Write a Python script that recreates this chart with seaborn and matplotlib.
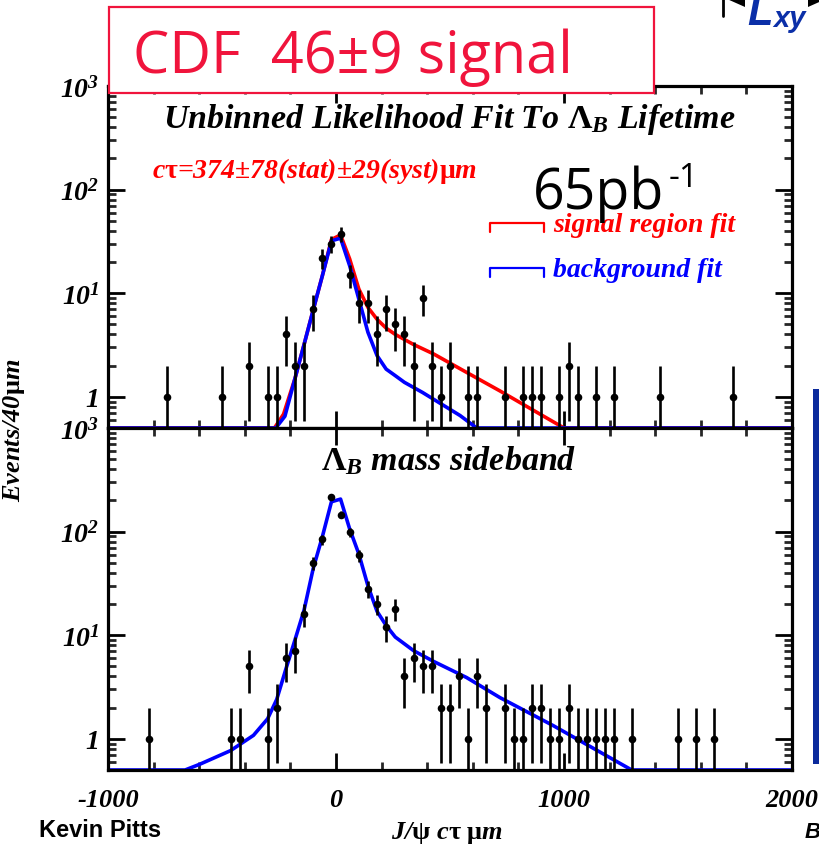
import numpy as np
import matplotlib
matplotlib.use("Agg")
import matplotlib.pyplot as plt
import matplotlib.transforms as mtransforms
from matplotlib.ticker import FixedLocator, FixedFormatter, LogLocator, NullFormatter, MultipleLocator
from matplotlib.patches import Rectangle, Polygon
from matplotlib.lines import Line2D
import seaborn as sns

# ---------------- data ----------------
# signal region: bin centres (um) and counts per 40 um
sig_x = [-740, -500, -380, -300, -260, -220, -180, -140, -100, -60, -20, 20, 60, 100, 140,
         180, 220, 260, 300, 340, 380, 420, 460, 500, 580, 620, 740, 820, 860, 900, 980,
         1020, 1060, 1140, 1220, 1420, 1740]
sig_n = [1, 1, 2, 1, 1, 4, 2, 2, 7, 22, 30, 37, 15, 8, 8,
         4, 7, 5, 4, 2, 9, 2, 1, 2, 1, 1, 1, 1, 1, 1, 1,
         2, 1, 1, 1, 1, 1]

# mass sideband
sb_x = [-820, -460, -420, -380, -300, -260, -220, -180, -140, -100, -60, -20, 20, 60, 100,
        140, 180, 220, 260, 300, 340, 380, 420, 460, 500, 540, 580, 620, 660, 740, 780,
        820, 860, 900, 940, 980, 1020, 1060, 1100, 1140, 1180, 1220, 1300, 1500, 1580, 1660]
sb_n = [1, 1, 1, 5, 1, 2, 6, 7, 16, 50, 84, 217, 146, 99, 59,
        28, 20, 12, 18, 4, 6, 5, 5, 2, 2, 4, 1, 4, 2, 2, 1,
        1, 2, 2, 1, 1, 2, 1, 1, 1, 1, 1, 1, 1, 1, 1]

# fit curves (0.5 = bottom of axis)
sigfit_x = [-1000, -270, -230, -180, -140, -100, -60, -20, 20, 60, 100, 140, 180, 220, 260,
            340, 427, 573, 719, 807, 1000, 2000]
sigfit_y = [0.5, 0.5, 0.68, 1.5, 3.2, 6.9, 14.7, 33, 36.5, 21.4, 11, 7.3, 5.6, 4.6, 4.0,
            3.2, 2.6, 1.72, 1.14, 0.88, 0.5, 0.5]

bkgfit_x = [-1000, -264, -224, -180, -140, -100, -60, -20, 20, 60, 100, 140, 180, 220, 260,
            300, 380, 427, 544, 617, 2000]
bkgfit_y = [0.5, 0.5, 0.65, 1.5, 3.2, 6.9, 14.7, 32, 34, 18.4, 8.8, 4.2, 2.5, 1.85, 1.6,
            1.38, 1.1, 0.95, 0.66, 0.5, 0.5]

sbfit_x = [-1000, -662, -596, -462, -362, -300, -260, -220, -180, -140, -100, -60, -20, 20,
           60, 100, 140, 180, 220, 260, 340, 427, 573, 719, 953, 1297, 2000]
sbfit_y = [0.5, 0.5, 0.57, 0.77, 1.08, 1.56, 2.4, 4.7, 9.0, 17.5, 44, 89, 194, 206,
           106, 61, 30, 17, 12.4, 9.6, 7.1, 5.6, 3.9, 2.5, 1.34, 0.5, 0.5]

ytick_vals = [1, 10, 100, 1000]
ytick_labels = ["1", r"$\mathbf{10^{1}}$", r"$\mathbf{10^{2}}$", r"$\mathbf{10^{3}}$"]
xtick_vals = [-1000, 0, 1000, 2000]
xtick_labels = ["-1000", "0", "1000", "2000"]

# ---------------- style ----------------
sns.set_theme(style="ticks")
plt.rcParams.update({
    "font.family": ["Liberation Serif", "DejaVu Sans"],
    "font.style": "italic",
    "font.weight": "bold",
    "mathtext.fontset": "custom",
    "mathtext.rm": "Liberation Serif:style=normal:weight=bold",
    "mathtext.it": "Liberation Serif:style=italic:weight=bold",
    "mathtext.bf": "Liberation Serif:style=italic:weight=bold",
    "axes.linewidth": 2.3,
    "axes.edgecolor": "black",
    "axes.facecolor": "white",
    "figure.facecolor": "white",
})

W, H = 819, 845
fig = plt.figure(figsize=(W / 100, H / 100), dpi=100)
T = mtransforms.Affine2D().scale(1 / W, -1 / H).translate(0, 1) + fig.transFigure

L, R = 108, 792
ax1 = fig.add_axes([L / W, (H - 429) / H, (R - L) / W, 342 / H])
ax2 = fig.add_axes([L / W, (H - 771) / H, (R - L) / W, 342 / H], sharex=ax1)

RED = "#ff0000"
BLUE = "#0000ff"


def draw_points(ax, xs, ns):
    xs = np.asarray(xs, float)
    ns = np.asarray(ns, float)
    err = np.sqrt(ns)
    lo = np.clip(ns - err, 1e-3, None)
    hi = ns + err
    ax.vlines(xs, lo, hi, color="black", lw=1.9, zorder=4)
    sns.scatterplot(x=xs, y=ns, ax=ax, color="black", s=30, linewidth=0, zorder=5, legend=False)


for ax in (ax1, ax2):
    ax.set_yscale("log")
    ax.set_xlim(-1000, 2000)
    ax.set_ylim(0.5, 1000)
    ax.yaxis.set_major_locator(FixedLocator(ytick_vals))
    ax.yaxis.set_major_formatter(FixedFormatter(ytick_labels))
    ax.yaxis.set_minor_locator(LogLocator(base=10, subs=np.arange(2, 10), numticks=20))
    ax.yaxis.set_minor_formatter(NullFormatter())
    ax.xaxis.set_major_locator(FixedLocator(xtick_vals))
    ax.xaxis.set_minor_locator(MultipleLocator(200))
    ax.tick_params(which="major", direction="in", length=12, width=2.0, top=True, right=True,
                   labelsize=20, pad=6, colors="black")
    ax.tick_params(which="minor", direction="in", length=6, width=2.0, top=True, right=True)
    ax.tick_params(axis="x", which="major", pad=13)
    for s in ax.spines.values():
        s.set_zorder(6)

ax2.xaxis.set_major_formatter(FixedFormatter(xtick_labels))
ax2.tick_params(axis="x", labelsize=19)
ax1.tick_params(labelbottom=False)

# top panel
sns.lineplot(x=sigfit_x, y=sigfit_y, ax=ax1, color=RED, lw=2.6, estimator=None, sort=False, zorder=2)
sns.lineplot(x=bkgfit_x, y=bkgfit_y, ax=ax1, color=BLUE, lw=2.6, estimator=None, sort=False, zorder=3)
draw_points(ax1, sig_x, sig_n)

# bottom panel
sns.lineplot(x=sbfit_x, y=sbfit_y, ax=ax2, color=BLUE, lw=2.6, estimator=None, sort=False, zorder=3)
draw_points(ax2, sb_x, sb_n)

for ax in (ax1, ax2):
    ax.set_xlim(-1000, 2000)
    ax.set_ylim(0.5, 1000)
    ax.set_xlabel("")
    ax.set_ylabel("")

# ---------------- texts ----------------
serif_bi = dict(family=["Liberation Serif", "DejaVu Sans"], style="italic", weight="bold")

fig.text(449, 128, r"Unbinned Likelihood Fit To $\mathrm{\Lambda}_{\mathbf{B}}$ Lifetime",
         transform=T, ha="center", va="baseline", fontsize=24.5, color="black", **serif_bi)
fig.text(449, 470, r"$\mathrm{\Lambda}_{\mathbf{B}}$ mass sideband",
         transform=T, ha="center", va="baseline", fontsize=24.5, color="black", **serif_bi)
fig.text(152, 178, r"c$\mathrm{\tau}$=374$\mathrm{\pm}$78(stat)$\mathrm{\pm}$29(syst)$\mathrm{\mu}$m",
         transform=T, ha="left", va="baseline", fontsize=20, color=RED, **serif_bi)

# legend
fig.add_artist(Line2D([490, 490, 544, 544], [233, 224, 224, 233], transform=T, color=RED, lw=1.6))
fig.text(553, 232, "signal region fit", transform=T, ha="left", va="baseline", fontsize=20,
         color=RED, **serif_bi)
fig.add_artist(Line2D([490, 490, 544, 544], [278, 269, 269, 278], transform=T, color=BLUE, lw=1.6))
fig.text(553, 277, "background fit", transform=T, ha="left", va="baseline", fontsize=20,
         color=BLUE, **serif_bi)

# luminosity
fig.text(533, 209, "65pb", transform=T, ha="left", va="baseline", fontsize=40,
         family="Open Sans", style="normal", weight="normal", color="black")
fig.text(669, 187, "-1", transform=T, ha="left", va="baseline", fontsize=24,
         family="Open Sans", style="normal", weight="normal", color="black")

# axis titles
fig.text(14, 430, r"Events/40$\mathrm{\mu}$m", transform=T, ha="center", va="center", rotation=90,
         fontsize=19, color="black", **serif_bi)
fig.text(447, 839, r"J/$\mathrm{\psi}$ c$\mathrm{\tau}$ $\mathrm{\mu}$m", transform=T,
         ha="center", va="baseline", fontsize=19, color="black", **serif_bi)

# red CDF box
BOXRED = "#f0143c"
fig.add_artist(Rectangle((109, 8), 545, 86, transform=T, facecolor="white", edgecolor=BOXRED,
                         lw=1.6, zorder=10))
fig.text(133, 73, "CDF  46±9 signal", transform=T, ha="left", va="baseline", fontsize=41.5,
         family="Open Sans", style="normal", weight="normal", color=BOXRED, zorder=11)

# slide decorations
fig.text(39, 837, "Kevin Pitts", transform=T, ha="left", va="baseline", fontsize=17,
         family="Liberation Sans", style="normal", weight="bold", color="black")
fig.text(805, 838, "B", transform=T, ha="left", va="baseline", fontsize=16,
         family="Liberation Sans", style="italic", weight="bold", color="black")
fig.add_artist(Rectangle((813, 390), 10, 375, transform=T, facecolor="#0b2a9c", edgecolor="none"))

LOGO = "#0b2fa8"
fig.text(747, 25, "L", transform=T, ha="left", va="baseline", fontsize=30,
         family="Liberation Sans", style="italic", weight="bold", color=LOGO)
fig.text(773, 27, "xy", transform=T, ha="left", va="baseline", fontsize=21,
         family="Liberation Sans", style="italic", weight="bold", color=LOGO)
fig.add_artist(Line2D([723, 723], [0, 17], transform=T, color="black", lw=2.0))
fig.add_artist(Polygon([(727, 0), (745, -8), (745, 8)], closed=True, transform=T,
                       facecolor="black", edgecolor="none"))
fig.add_artist(Polygon([(808, -8), (808, 8), (826, 0)], closed=True, transform=T,
                       facecolor="black", edgecolor="none"))

fig.savefig("out.png", dpi=100)
